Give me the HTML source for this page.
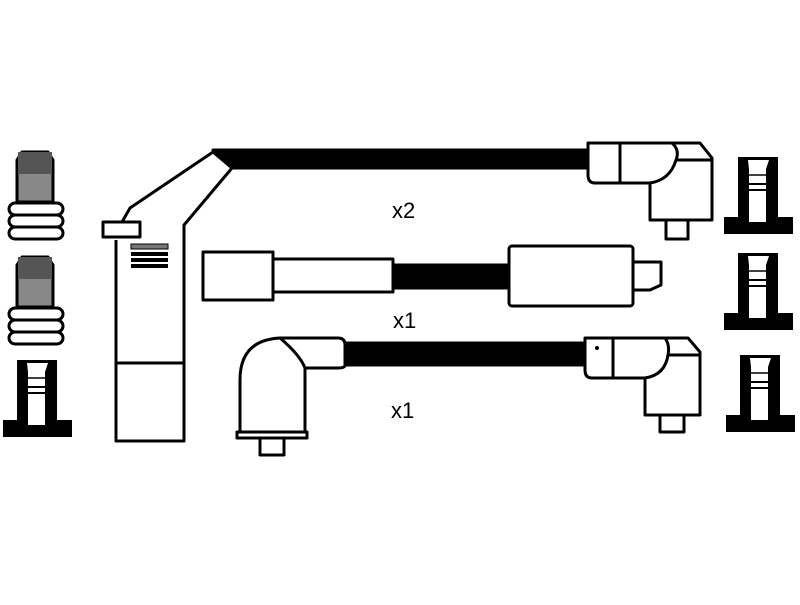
<!DOCTYPE html>
<html><head><style>body{margin:0;background:#fff}</style></head><body>
<svg width="800" height="600" viewBox="0 0 800 600" xmlns="http://www.w3.org/2000/svg" font-family="Liberation Sans, sans-serif">
<rect width="800" height="600" fill="#fff"/>
<g stroke="#000" stroke-width="3" fill="none" stroke-linejoin="round">
<g>
<path d="M22 152 H48 L53 160 V202 H17 V160 Z" fill="#888"/>
<rect x="18" y="152" width="34" height="22" fill="#555" stroke="none"/>
<rect x="9" y="203" width="54" height="12" rx="6" fill="#fff"/>
<rect x="9" y="215" width="54" height="12" rx="6" fill="#fff"/>
<rect x="9" y="227" width="54" height="12" rx="6" fill="#fff"/>
</g>
<g transform="translate(0,105)">
<path d="M22 152 H48 L53 160 V202 H17 V160 Z" fill="#888"/>
<rect x="18" y="152" width="34" height="22" fill="#555" stroke="none"/>
<rect x="9" y="203" width="54" height="12" rx="6" fill="#fff"/>
<rect x="9" y="215" width="54" height="12" rx="6" fill="#fff"/>
<rect x="9" y="227" width="54" height="12" rx="6" fill="#fff"/>
</g>
<path d="M116 240 V441 H184 V225 L232 168" />
<line x1="116" y1="363" x2="184" y2="363"/>
<path d="M122 222 L130 208 L213 152 L232 168"/>
<rect x="103" y="222" width="37" height="15" fill="#fff"/>
<path d="M213 150 L590 150 L590 168 L232 168 Z" fill="#000"/>
<path d="M588 143 H700 L712 158 V220 H650 V183 H595 Q588 183 588 175 Z" fill="#fff"/>
<line x1="620" y1="143" x2="620" y2="183"/>
<path d="M650 183 Q670 180 676 160 Q680 150 672 143"/><line x1="676" y1="160" x2="712" y2="160"/>
<rect x="666" y="220" width="22" height="19" fill="#fff"/>
<rect x="203" y="252" width="70" height="48" fill="#fff"/>
<rect x="273" y="259" width="120" height="33" fill="#fff"/>
<rect x="393" y="265" width="117" height="23" fill="#000"/>
<rect x="509" y="246" width="124" height="60" rx="3" fill="#fff"/>
<path d="M633 262 H661 V285 L650 290 H633"/>
<rect x="345" y="343" width="243" height="22" fill="#000"/>
<path d="M240 432 V380 Q240 340 280 338 H338 Q345 338 345 345 V365 Q345 368 338 368 H305 V432"/>
<path d="M280 338 Q300 355 305 368"/>
<rect x="237" y="432" width="70" height="6" fill="#fff"/>
<rect x="260" y="438" width="24" height="17" fill="#fff"/>
<path d="M585 338 H688 L700 352 V415 H645 V378 H592 Q585 378 585 370 Z" fill="#fff"/>
<line x1="613" y1="338" x2="613" y2="378"/>
<path d="M645 378 Q665 375 668 355 Q670 345 665 338"/><line x1="668" y1="355" x2="700" y2="355"/>
<rect x="660" y="415" width="24" height="17" fill="#fff"/>
</g>
<rect x="131" y="244" width="37" height="5" fill="#777" stroke="#000"/>
<rect x="131" y="252" width="37" height="4" fill="#000"/>
<rect x="131" y="258" width="37" height="4" fill="#000"/>
<rect x="131" y="264" width="37" height="4" fill="#000"/>
<g id="boot">
<path d="M17 360 H57 V420 H72 V437 H3 V420 H17 Z" fill="#000"/>
<path d="M27 363 H48 L45 372 V425 H28 V372 Z" fill="#fff"/>
<line x1="28" y1="378" x2="45" y2="378" stroke="#000" stroke-width="1.5"/>
<line x1="28" y1="387" x2="45" y2="387" stroke="#000" stroke-width="2"/>
<line x1="28" y1="393" x2="45" y2="393" stroke="#000" stroke-width="2"/>
</g>
<use href="#boot" transform="translate(721,-203)"/>
<use href="#boot" transform="translate(721,-107)"/>
<use href="#boot" transform="translate(723,-5)"/>
<circle cx="597" cy="348" r="2" fill="#000"/>
<g font-size="22" fill="#000">
<text x="392" y="218">x2</text>
<text x="393" y="328">x1</text>
<text x="391" y="418">x1</text>
</g>
</svg>
</body></html>
